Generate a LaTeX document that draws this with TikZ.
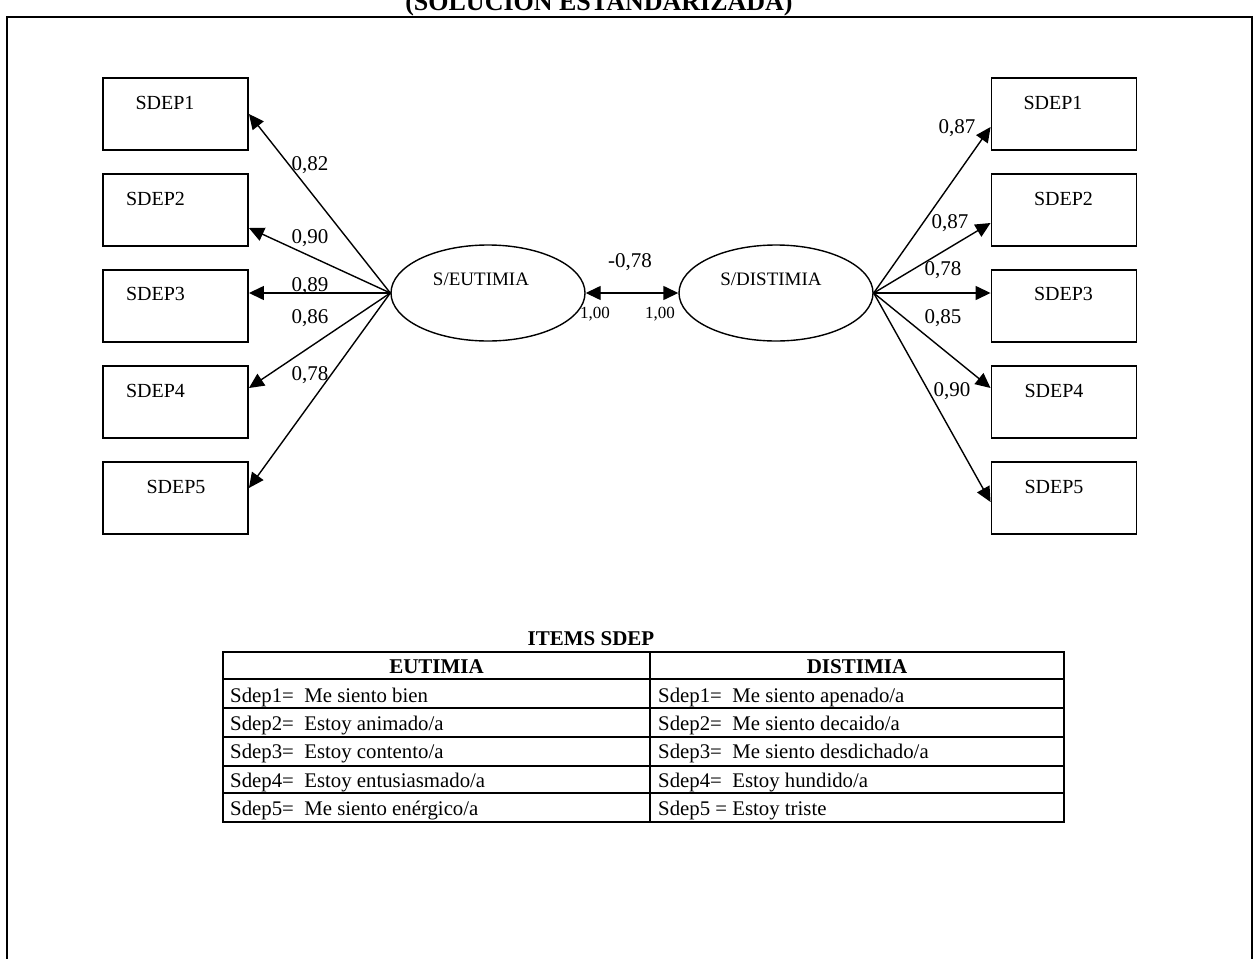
\documentclass[tikz,border=0pt]{standalone}
\usepackage{fontspec}
\setmainfont{Liberation Serif}
\usetikzlibrary{arrows.meta,shapes.geometric}

\begin{document}
\begin{tikzpicture}[x=1pt,y=-1pt,
  obs/.style={draw,line width=1.9pt,minimum width=145pt,minimum height=72pt,inner sep=0pt},
  lat/.style={draw,ellipse,line width=1.4pt,minimum width=194pt,minimum height=96pt,inner sep=0pt},
  boxtext/.style={font=\fontsize{20}{24}\selectfont,anchor=base,inner sep=0pt},
  coef/.style={font=\fontsize{21}{25}\selectfont,anchor=base,inner sep=0pt},
  smallcoef/.style={font=\fontsize{17}{20}\selectfont,anchor=base,inner sep=0pt},
  tip/.tip={Triangle[length=15pt,width=14pt]},
  load/.style={line width=1.4pt,-tip},
  corr/.style={line width=1.4pt,tip-tip},
  cell/.style={font=\fontsize{20.8}{24}\selectfont,anchor=base west,inner sep=0pt},
  head/.style={font=\bfseries\fontsize{21}{25}\selectfont,anchor=base,inner sep=0pt},
]
\useasboundingbox (0,0) rectangle (1257,958);
\clip (0,0) rectangle (1257,958);
\fill[white] (0,0) rectangle (1257,958);

% frame and heading
\draw[line width=2pt] (7,970) -- (7,17) -- (1252,17) -- (1252,970);
\node[font=\bfseries\fontsize{26}{30}\selectfont,anchor=base,inner sep=0pt] (title) at (599,11) {(SOLUCIÓN ESTANDARIZADA)};

% latent factors
\node[lat] (eu) at (488,293) {};
\node[lat] (di) at (776,293) {};
\node[font=\fontsize{19}{23}\selectfont,anchor=base,inner sep=0pt] (eut) at (481,285) {S/EUTIMIA};
\node[font=\fontsize{19}{23}\selectfont,anchor=base,inner sep=0pt] (dit) at (771,285) {S/DISTIMIA};

% observed items, left
\node[obs] (l1) at (175.5,114) {};
\node[obs] (l2) at (175.5,210) {};
\node[obs] (l3) at (175.5,306) {};
\node[obs] (l4) at (175.5,402) {};
\node[obs] (l5) at (175.5,498) {};
\node[boxtext] (l1t) at (165,109) {SDEP1};
\node[boxtext] (l2t) at (155.5,205) {SDEP2};
\node[boxtext] (l3t) at (155.5,300) {SDEP3};
\node[boxtext] (l4t) at (155.5,397) {SDEP4};
\node[boxtext] (l5t) at (176,493) {SDEP5};

% observed items, right
\node[obs] (r1) at (1064,114) {};
\node[obs] (r2) at (1064,210) {};
\node[obs] (r3) at (1064,306) {};
\node[obs] (r4) at (1064,402) {};
\node[obs] (r5) at (1064,498) {};
\node[boxtext] (r1t) at (1053,109) {SDEP1};
\node[boxtext] (r2t) at (1063.5,205) {SDEP2};
\node[boxtext] (r3t) at (1063.5,300) {SDEP3};
\node[boxtext] (r4t) at (1054,397) {SDEP4};
\node[boxtext] (r5t) at (1054,493) {SDEP5};

% loadings
\draw[load] (eu.west) -- ([yshift=0pt]l1.east);
\draw[load] (eu.west) -- ([yshift=-18pt]l2.east);
\draw[load] (eu.west) -- ([yshift=13pt]l3.east);
\draw[load] (eu.west) -- ([yshift=14pt]l4.east);
\draw[load] (eu.west) -- ([yshift=10pt]l5.east);

\draw[load] (di.east) -- ([yshift=-13pt]r1.west);
\draw[load] (di.east) -- ([yshift=-13pt]r2.west);
\draw[load] (di.east) -- ([yshift=13pt]r3.west);
\draw[load] (di.east) -- ([yshift=14pt]r4.west);
\draw[load] (di.east) -- ([yshift=-4pt]r5.west);

\node[coef] (c1) at (310,170) {0,82};
\node[coef] (c2) at (310,243) {0,90};
\node[coef] (c3) at (310,291) {0,89};
\node[coef] (c4) at (310,323) {0,86};
\node[coef] (c5) at (310,380) {0,78};

\node[coef] (d1) at (957,133) {0,87};
\node[coef] (d2) at (950,228) {0,87};
\node[coef] (d3) at (943,275) {0,78};
\node[coef] (d4) at (943,323) {0,85};
\node[coef] (d5) at (952,396) {0,90};

% factor correlation
\draw[corr] (eu.east) -- (di.west);
\node[coef] (rho) at (630,267) {-0,78};
\node[smallcoef] (v1) at (595,318) {1,00};
\node[smallcoef] (v2) at (660,318) {1,00};

% item table
\node[head] (ttl) at (591,645) {ITEMS SDEP};
\draw[line width=2pt] (223,652) rectangle (1064,822);
\draw[line width=1.5pt] (650,652) -- (650,822);
\foreach \yy in {679,708,737,766,793}
  \draw[line width=1.5pt] (223,\yy) -- (1064,\yy);
\node[head] (h1) at (436.5,673) {EUTIMIA};
\node[head] (h2) at (857,673) {DISTIMIA};

\node[cell] (e1) at (230,702) {Sdep1=\ \ Me siento bien};
\node[cell] (e2) at (230,730) {Sdep2=\ \ Estoy animado/a};
\node[cell] (e3) at (230,758) {Sdep3=\ \ Estoy contento/a};
\node[cell] (e4) at (230,787) {Sdep4=\ \ Estoy entusiasmado/a};
\node[cell] (e5) at (230,815) {Sdep5=\ \ Me siento enérgico/a};

\node[cell] (s1) at (658,702) {Sdep1=\ \ Me siento apenado/a};
\node[cell] (s2) at (658,730) {Sdep2=\ \ Me siento decaido/a};
\node[cell] (s3) at (658,758) {Sdep3=\ \ Me siento desdichado/a};
\node[cell] (s4) at (658,787) {Sdep4=\ \ Estoy hundido/a};
\node[cell] (s5) at (658,815) {Sdep5 = Estoy triste};
\end{tikzpicture}
\end{document}
